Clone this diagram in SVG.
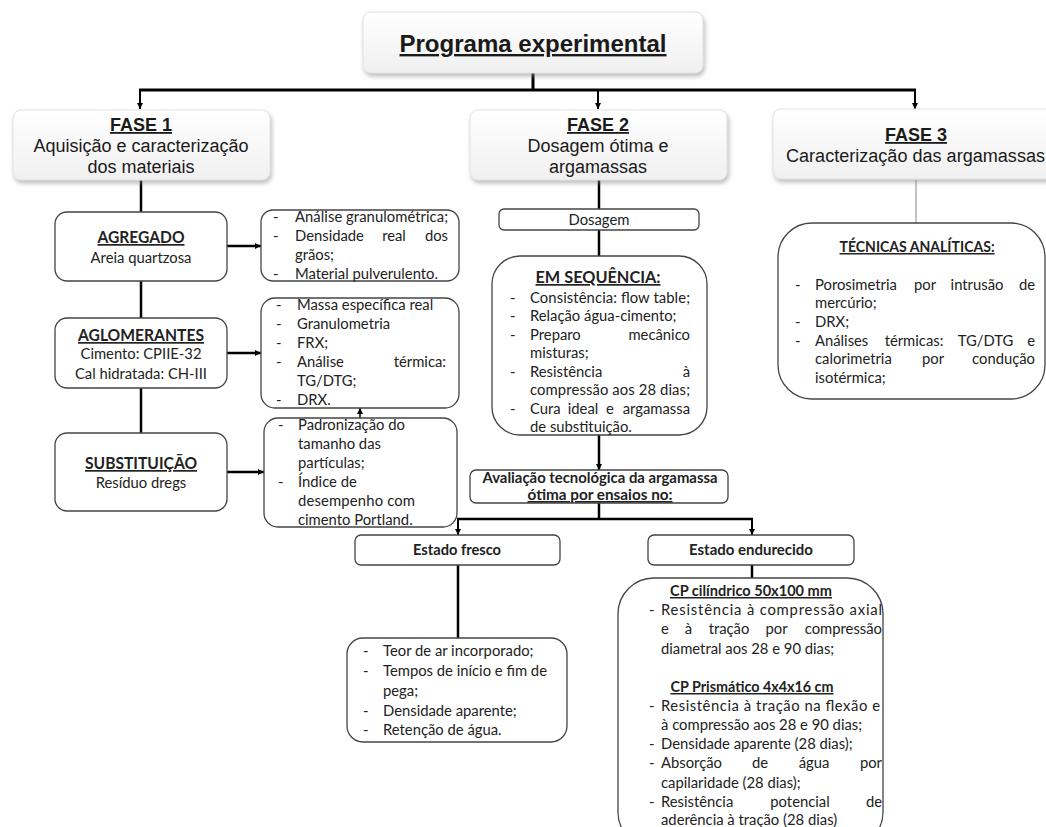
<svg xmlns="http://www.w3.org/2000/svg" width="1046" height="827" viewBox="0 0 1046 827">
<defs>
<linearGradient id="gfase" x1="0" y1="0" x2="0" y2="1">
<stop offset="0" stop-color="#ffffff"/>
<stop offset="1" stop-color="#f0f0f0"/>
</linearGradient>
<filter id="sh" x="-10%" y="-20%" width="130%" height="160%">
<feDropShadow dx="1.5" dy="3" stdDeviation="2" flood-color="#888" flood-opacity="0.55"/>
</filter>
<marker id="ahs" markerUnits="userSpaceOnUse" markerWidth="7" markerHeight="7" refX="6" refY="3" orient="auto">
<path d="M0,0 L6,3 L0,6 z" fill="#000"/>
</marker>
</defs>
<style>
.fase{fill:url(#gfase);stroke:#e2e2e2;stroke-width:1;filter:url(#sh)}
.bx{fill:#fff;stroke:#444;stroke-width:1.3}
.ar{font-family:"Liberation Sans",Arial,sans-serif;fill:#1a1a1a}
.c{font-family:Lato,"Liberation Sans",sans-serif;font-size:14.8px;fill:#222}
.cb{font-family:Lato,"Liberation Sans",sans-serif;font-weight:bold;fill:#222}
.u{text-decoration:underline}
.m{text-anchor:middle}
.e{text-anchor:end}
.k{stroke:#000;fill:none}
</style>
<rect width="1046" height="827" fill="#fff"/>

<g id="connectors">
<line class="k" x1="533" y1="73" x2="533" y2="90" stroke-width="3"/>
<line class="k" x1="139" y1="90" x2="916" y2="90" stroke-width="3"/>
<line class="k" x1="140" y1="90" x2="140" y2="109" stroke-width="2" marker-end="url(#ahs)"/>
<line class="k" x1="598" y1="90" x2="598" y2="109" stroke-width="2" marker-end="url(#ahs)"/>
<line class="k" x1="915" y1="90" x2="915" y2="109" stroke-width="2" marker-end="url(#ahs)"/>
<line class="k" x1="141" y1="180" x2="141" y2="212" stroke-width="2.5"/>
<line class="k" x1="141" y1="281" x2="141" y2="318" stroke-width="2.5"/>
<line class="k" x1="141" y1="388" x2="141" y2="433" stroke-width="2.5"/>
<line class="k" x1="227" y1="246" x2="261" y2="246" stroke-width="2.5" marker-end="url(#ahs)"/>
<line class="k" x1="227" y1="353" x2="261" y2="353" stroke-width="2.5" marker-end="url(#ahs)"/>
<line class="k" x1="227" y1="472" x2="264" y2="472" stroke-width="2.5" marker-end="url(#ahs)"/>
<line class="k" x1="360" y1="418" x2="360" y2="408" stroke-width="1.5" marker-end="url(#ahs)"/>
<line class="k" x1="599" y1="180" x2="599" y2="209" stroke-width="2.5"/>
<line class="k" x1="599" y1="230" x2="599" y2="256" stroke-width="2.5"/>
<line class="k" x1="599" y1="435" x2="599" y2="470" stroke-width="2.5" marker-end="url(#ahs)"/>
<line class="k" x1="599" y1="503" x2="599" y2="519" stroke-width="2.5"/>
<line class="k" x1="457" y1="519" x2="753" y2="519" stroke-width="2.5"/>
<line class="k" x1="458" y1="519" x2="458" y2="535" stroke-width="2" marker-end="url(#ahs)"/>
<line class="k" x1="752" y1="519" x2="752" y2="535" stroke-width="2" marker-end="url(#ahs)"/>
<line class="k" x1="458" y1="565" x2="458" y2="638" stroke-width="2.5"/>
<line class="k" x1="752" y1="565" x2="752" y2="578" stroke-width="2.5"/>
<line x1="916" y1="180" x2="916" y2="223" stroke="#9a9a9a" stroke-width="1.2"/>
</g>

<g id="titulo">
<rect class="fase" x="363" y="12" width="340" height="61" rx="8"/>
<text class="ar u m" x="533" y="52" font-size="24" font-weight="bold" textLength="267" lengthAdjust="spacingAndGlyphs">Programa experimental</text>
</g>

<g id="fase1">
<rect class="fase" x="13" y="110" width="257" height="70" rx="8"/>
<text class="ar u m" x="141" y="131" font-size="18" font-weight="bold">FASE 1</text>
<text class="ar m" x="141" y="152" font-size="18">Aquisição e caracterização</text>
<text class="ar m" x="141" y="173" font-size="18">dos materiais</text>
</g>

<g id="fase2">
<rect class="fase" x="470" y="110" width="257" height="70" rx="8"/>
<text class="ar u m" x="598" y="131" font-size="18" font-weight="bold">FASE 2</text>
<text class="ar m" x="598" y="152" font-size="18">Dosagem ótima e</text>
<text class="ar m" x="598" y="173" font-size="18">argamassas</text>
</g>

<g id="fase3">
<rect class="fase" x="773" y="109" width="290" height="70" rx="8"/>
<text class="ar u m" x="916" y="141" font-size="18" font-weight="bold">FASE 3</text>
<text class="ar" x="786" y="162" font-size="18" textLength="259" lengthAdjust="spacingAndGlyphs">Caracterização das argamassas</text>
</g>

<g id="agregado">
<rect class="bx" x="55" y="212" width="172" height="69" rx="12"/>
<text class="cb u m" x="141" y="243" font-size="17" textLength="87" lengthAdjust="spacingAndGlyphs">AGREGADO</text>
<text class="c m" x="141" y="263">Areia quartzosa</text>
</g>

<g id="aglomerantes">
<rect class="bx" x="55" y="318" width="172" height="70" rx="12"/>
<text class="cb u m" x="141" y="341" font-size="17" textLength="126" lengthAdjust="spacingAndGlyphs">AGLOMERANTES</text>
<text class="c m" x="141" y="359">Cimento: CPIIE-32</text>
<text class="c m" x="141" y="379">Cal hidratada: CH-III</text>
</g>

<g id="substituicao">
<rect class="bx" x="55" y="433" width="172" height="78" rx="12"/>
<text class="cb u m" x="141" y="469" font-size="17" textLength="112" lengthAdjust="spacingAndGlyphs">SUBSTITUIÇÃO</text>
<text class="c m" x="141" y="488">Resíduo dregs</text>
</g>

<g id="lista-agregado">
<rect class="bx" x="261" y="210" width="198" height="71" rx="12"/>
<text class="c" x="273" y="222">-</text>
<text class="c" x="273" y="241">-</text>
<text class="c" x="273" y="279">-</text>
<text class="c" x="295" y="222" textLength="153" lengthAdjust="spacing">Análise granulométrica;</text>
<text class="c" x="295" y="241">Densidade</text>
<text class="c m" x="394" y="241">real</text>
<text class="c e" x="448" y="241">dos</text>
<text class="c" x="295" y="260">grãos;</text>
<text class="c" x="295" y="279">Material pulverulento.</text>
</g>

<g id="lista-aglomerantes">
<rect class="bx" x="261" y="298" width="198" height="110" rx="14"/>
<text class="c" x="276" y="310">-</text>
<text class="c" x="276" y="329">-</text>
<text class="c" x="276" y="348">-</text>
<text class="c" x="276" y="367">-</text>
<text class="c" x="276" y="405">-</text>
<text class="c" x="297" y="310">Massa específica real</text>
<text class="c" x="297" y="329">Granulometria</text>
<text class="c" x="297" y="348">FRX;</text>
<text class="c" x="297" y="367">Análise</text>
<text class="c e" x="446" y="367">térmica:</text>
<text class="c" x="297" y="386">TG/DTG;</text>
<text class="c" x="297" y="405">DRX.</text>
</g>

<g id="lista-substituicao">
<rect class="bx" x="264" y="418" width="193" height="109" rx="14"/>
<text class="c" x="278" y="430">-</text>
<text class="c" x="278" y="487">-</text>
<text class="c" x="298" y="430">Padronização do</text>
<text class="c" x="298" y="449">tamanho das</text>
<text class="c" x="298" y="468">partículas;</text>
<text class="c" x="298" y="487">Índice de</text>
<text class="c" x="298" y="506" textLength="117" lengthAdjust="spacing">desempenho com</text>
<text class="c" x="298" y="525">cimento Portland.</text>
</g>

<g id="dosagem">
<rect class="bx" x="499" y="209" width="200" height="21" rx="5"/>
<text class="c m" x="599" y="225">Dosagem</text>
</g>

<g id="em-sequencia">
<rect class="bx" x="492" y="256" width="215" height="179" rx="28"/>
<text class="cb u m" x="598" y="283" font-size="17" textLength="125" lengthAdjust="spacingAndGlyphs">EM SEQUÊNCIA:</text>
<text class="c" x="510" y="303">-</text>
<text class="c" x="510" y="321.4">-</text>
<text class="c" x="510" y="339.9">-</text>
<text class="c" x="510" y="376.7">-</text>
<text class="c" x="510" y="413.6">-</text>
<text class="c" x="530" y="303" textLength="160" lengthAdjust="spacing">Consistência: flow table;</text>
<text class="c" x="530" y="321.4">Relação água-cimento;</text>
<text class="c" x="530" y="339.9">Preparo</text>
<text class="c e" x="690" y="339.9">mecânico</text>
<text class="c" x="530" y="358.3">misturas;</text>
<text class="c" x="530" y="376.7">Resistência</text>
<text class="c e" x="690" y="376.7">à</text>
<text class="c" x="530" y="395.1" textLength="160" lengthAdjust="spacing">compressão aos 28 dias;</text>
<text class="c" x="530" y="413.6">Cura</text>
<text class="c m" x="583" y="413.6">ideal</text>
<text class="c m" x="610" y="413.6">e</text>
<text class="c e" x="690" y="413.6">argamassa</text>
<text class="c" x="530" y="432">de substituição.</text>
</g>

<g id="avaliacao">
<rect class="bx" x="470" y="470" width="258" height="33" rx="6"/>
<text class="cb m" x="600" y="483" font-size="15" textLength="235" lengthAdjust="spacingAndGlyphs">Avaliação tecnológica da argamassa</text>
<text class="cb u m" x="600" y="500" font-size="15" textLength="145" lengthAdjust="spacingAndGlyphs">ótima por ensaios no:</text>
</g>

<g id="estado-fresco">
<rect class="bx" x="355" y="535" width="205" height="30" rx="6"/>
<text class="cb m" x="457" y="555" font-size="15" textLength="88" lengthAdjust="spacingAndGlyphs">Estado fresco</text>
</g>

<g id="estado-endurecido">
<rect class="bx" x="648" y="535" width="206" height="30" rx="6"/>
<text class="cb m" x="751" y="555" font-size="15" textLength="124" lengthAdjust="spacingAndGlyphs">Estado endurecido</text>
</g>

<g id="lista-fresco">
<rect class="bx" x="347" y="638" width="220" height="104" rx="16"/>
<text class="c" x="363" y="656">-</text>
<text class="c" x="363" y="676">-</text>
<text class="c" x="363" y="716">-</text>
<text class="c" x="363" y="735">-</text>
<text class="c" x="383" y="656">Teor de ar incorporado;</text>
<text class="c" x="383" y="676">Tempos de início e fim de</text>
<text class="c" x="383" y="696">pega;</text>
<text class="c" x="383" y="716">Densidade aparente;</text>
<text class="c" x="383" y="735">Retenção de água.</text>
</g>

<g id="lista-endurecido">
<rect class="bx" x="618" y="578" width="265" height="270" rx="36"/>
<text class="cb u m" x="751" y="596" font-size="15" textLength="162" lengthAdjust="spacingAndGlyphs">CP cilíndrico 50x100 mm</text>
<text class="c" x="649" y="615">-</text>
<text class="c" x="661" y="615" textLength="221" lengthAdjust="spacing">Resistência à compressão axial</text>
<text class="c" x="661" y="634">e</text>
<text class="c m" x="688.5" y="634">à</text>
<text class="c m" x="729" y="634">tração</text>
<text class="c m" x="776.5" y="634">por</text>
<text class="c e" x="882" y="634">compressão</text>
<text class="c" x="661" y="654">diametral aos 28 e 90 dias;</text>
<text class="cb u m" x="752" y="692" font-size="15" textLength="163" lengthAdjust="spacingAndGlyphs">CP Prismático 4x4x16 cm</text>
<text class="c" x="649" y="711">-</text>
<text class="c" x="649" y="749">-</text>
<text class="c" x="649" y="768">-</text>
<text class="c" x="649" y="807">-</text>
<text class="c" x="661" y="711" textLength="219" lengthAdjust="spacing">Resistência à tração na flexão e</text>
<text class="c" x="661" y="730">à compressão aos 28 e 90 dias;</text>
<text class="c" x="661" y="749">Densidade aparente (28 dias);</text>
<text class="c" x="661" y="768">Absorção</text>
<text class="c m" x="760" y="768">de</text>
<text class="c m" x="814" y="768">água</text>
<text class="c e" x="882" y="768">por</text>
<text class="c" x="661" y="788">capilaridade (28 dias);</text>
<text class="c" x="661" y="807">Resistência</text>
<text class="c m" x="800" y="807">potencial</text>
<text class="c e" x="882" y="807">de</text>
<text class="c" x="661" y="825">aderência à tração (28 dias)</text>
</g>

<g id="tecnicas">
<rect class="bx" x="778" y="223" width="267" height="176" rx="34"/>
<text class="cb u m" x="917" y="252" font-size="15" textLength="155" lengthAdjust="spacingAndGlyphs">TÉCNICAS ANALÍTICAS:</text>
<text class="c" x="795" y="290">-</text>
<text class="c" x="795" y="327">-</text>
<text class="c" x="795" y="346">-</text>
<text class="c" x="815" y="290">Porosimetria</text>
<text class="c m" x="925" y="290">por</text>
<text class="c m" x="977" y="290">intrusão</text>
<text class="c e" x="1035" y="290">de</text>
<text class="c" x="815" y="308">mercúrio;</text>
<text class="c" x="815" y="327">DRX;</text>
<text class="c" x="815" y="346">Análises</text>
<text class="c m" x="914" y="346">térmicas:</text>
<text class="c m" x="985.5" y="346">TG/DTG</text>
<text class="c e" x="1035" y="346">e</text>
<text class="c" x="815" y="364">calorimetria</text>
<text class="c m" x="933" y="364">por</text>
<text class="c e" x="1035" y="364">condução</text>
<text class="c" x="815" y="383">isotérmica;</text>
</g>
</svg>
